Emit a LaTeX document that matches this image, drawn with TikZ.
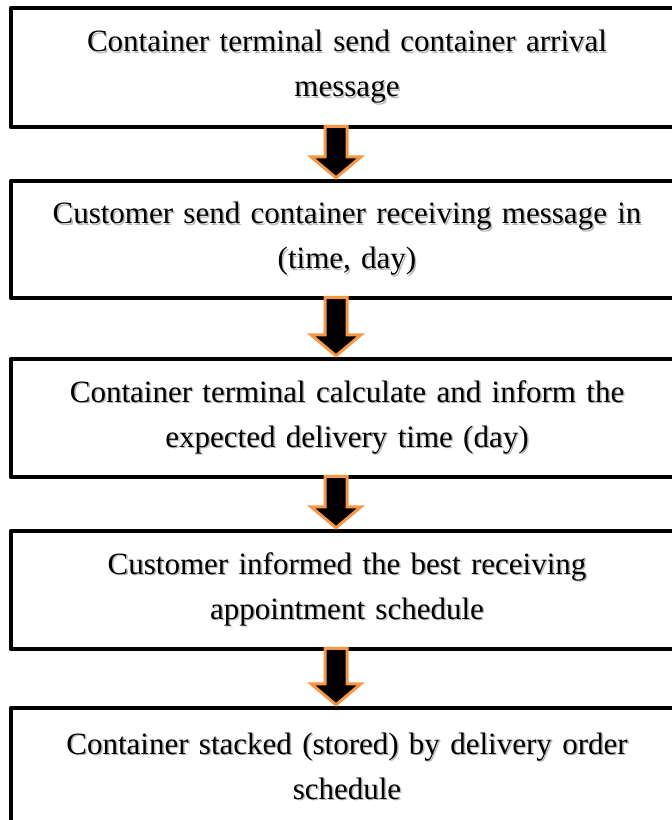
\documentclass[tikz,border=0pt]{standalone}
\usepackage{fontspec}
\setmainfont{Liberation Serif}
\usetikzlibrary{calc}
\definecolor{arroworange}{RGB}{247,150,70}
% text line with a soft grey drop shadow
\newcommand\shd[1]{\leavevmode\rlap{\kern1.5pt\raisebox{-1.5pt}{\textcolor{black!28}{#1}}}#1}
\tikzset{
  stepbox/.style={draw=black, line width=4.5pt, line join=round, rectangle,
    minimum width=672, minimum height=118, inner sep=0pt,
    text width=640, align=center,
    font=\fontsize{31}{45}\selectfont},
  flowarr/.style={draw=arroworange, fill=black, line width=3pt, line join=miter}
}
% block arrow between two boxes, placed on the vertical through (ax)
\newcommand\flowarrow[2]{%
  \path (#1.south -| ax) coordinate (s) (#2.north -| ax) coordinate (e);
  \draw[flowarr] ($(s)+(-11,-3)$) -- ($(s)+(11,-3)$) -- ($(e)+(11,-22)$)
    -- ($(e)+(25,-22)$) -- ($(e)+(0,-1)$) -- ($(e)+(-25,-22)$)
    -- ($(e)+(-11,-22)$) -- cycle;}
\begin{document}
\begin{tikzpicture}[x=1pt,y=-1pt]
  \useasboundingbox (0,0) rectangle (672,820);
  \coordinate (ax) at (336,0);

  \node[stepbox, minimum height=119] (b1) at (347,67.5)
    {\shd{Container terminal send container arrival}\\\shd{message}};
  \node[stepbox, minimum height=117] (b2) at (347,239.5)
    {\shd{Customer send container receiving message in}\\\shd{(time, day)}};
  \node[stepbox] (b3) at (347,418)
    {\shd{Container terminal calculate and inform the}\\\shd{expected delivery time (day)}};
  \node[stepbox] (b4) at (347,590)
    {\shd{Customer informed the best receiving}\\\shd{appointment schedule}};
  \node[stepbox] (b5) at (347,767)
    {\shd{Container stacked (stored) by delivery order}\\\shd{schedule}};

  \flowarrow{b1}{b2}
  \flowarrow{b2}{b3}
  \flowarrow{b3}{b4}
  \flowarrow{b4}{b5}
\end{tikzpicture}
\end{document}
